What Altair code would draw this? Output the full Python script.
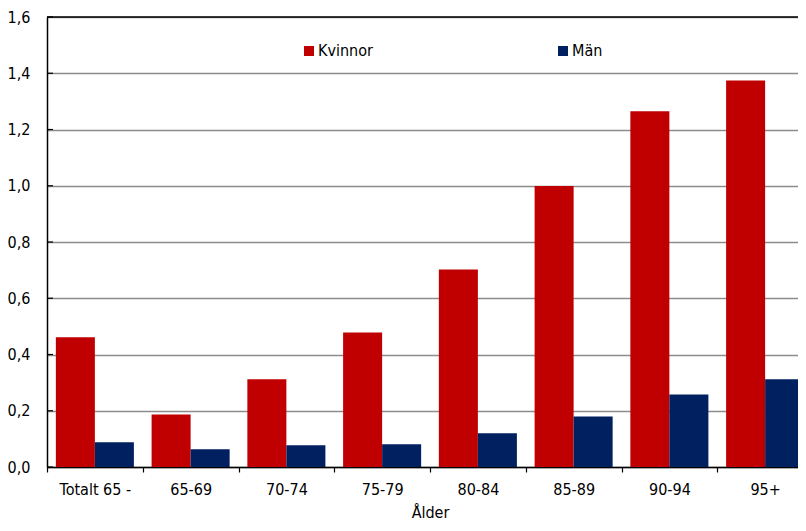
import altair as alt
import pandas as pd

categories = ["Totalt 65 -", "65-69", "70-74", "75-79", "80-84", "85-89", "90-94", "95+"]
kvinnor = [0.461, 0.187, 0.312, 0.478, 0.702, 0.999, 1.265, 1.374]
man = [0.088, 0.063, 0.077, 0.081, 0.120, 0.180, 0.258, 0.312]
series = ["Kvinnor", "Män"]
colors = ["#C00000", "#002060"]
yticks = [0.0, 0.2, 0.4, 0.6, 0.8, 1.0, 1.2, 1.4, 1.6]

rows = []
for c, k, m in zip(categories, kvinnor, man):
    rows.append({"cat": c, "kon": series[0], "v": k})
    rows.append({"cat": c, "kon": series[1], "v": m})
df = pd.DataFrame(rows)
tick_df = pd.DataFrame({"v": yticks})
top_df = pd.DataFrame({"v": [1.6]})

FONT = "DejaVu Sans Condensed, Liberation Sans Narrow, Roboto"

yscale = alt.Scale(domain=[0, 1.6], nice=False, zero=True)
yaxis = alt.Axis(title=None, values=yticks, tickSize=0, labelPadding=17,
                 labelExpr="replace(format(datum.value, '.1f'), '.', ',')",
                 grid=True, gridColor="#8c8c8c", gridWidth=1.5,
                 domainColor="black", domainWidth=1.5)
yenc = alt.Y("v:Q", scale=yscale, axis=yaxis)

bars = alt.Chart(df).mark_bar().encode(
    x=alt.X("cat:N", sort=categories,
            scale=alt.Scale(range=[0, 766], paddingInner=0, paddingOuter=0),
            axis=alt.Axis(title="Ålder", labelAngle=0, tickBand="extent",
                          tickSize=5, tickColor="black", tickWidth=1.2,
                          domainColor="black", domainWidth=1.5,
                          labelPadding=9, titlePadding=7, grid=False)),
    xOffset=alt.XOffset("kon:N", sort=series,
                        scale=alt.Scale(paddingInner=0, paddingOuter=0.227)),
    y=yenc,
    color=alt.Color("kon:N", sort=series,
                    scale=alt.Scale(domain=series, range=colors),
                    legend=alt.Legend(title=None, orient="none", legendX=254, legendY=26,
                                      direction="horizontal", symbolType="square",
                                      symbolSize=100, symbolStrokeWidth=0,
                                      labelFontSize=16, labelFont=FONT,
                                      labelColor="black", labelOffset=1,
                                      columnPadding=182)),
)

inner_ticks = alt.Chart(tick_df).mark_rule(color="black", strokeWidth=1.2).encode(
    y=yenc,
    x=alt.value(0), x2=alt.value(6),
)

top_line = alt.Chart(top_df).mark_rule(color="black", strokeWidth=1.5).encode(
    y=yenc,
    x=alt.value(0), x2=alt.value(766),
)

chart = alt.layer(bars, top_line, inner_ticks).properties(
    width=751, height=450,
    autosize=alt.AutoSizeParams(type="none"),
    padding={"left": 39, "top": 9, "right": 0, "bottom": 56},
).configure_view(stroke=None).configure_axis(
    labelFont=FONT, titleFont=FONT, labelFontSize=16, titleFontSize=16,
    labelColor="black", titleColor="black", titleFontWeight="normal"
)

chart.save("out.html", embed_options={"renderer": "svg", "actions": False})
